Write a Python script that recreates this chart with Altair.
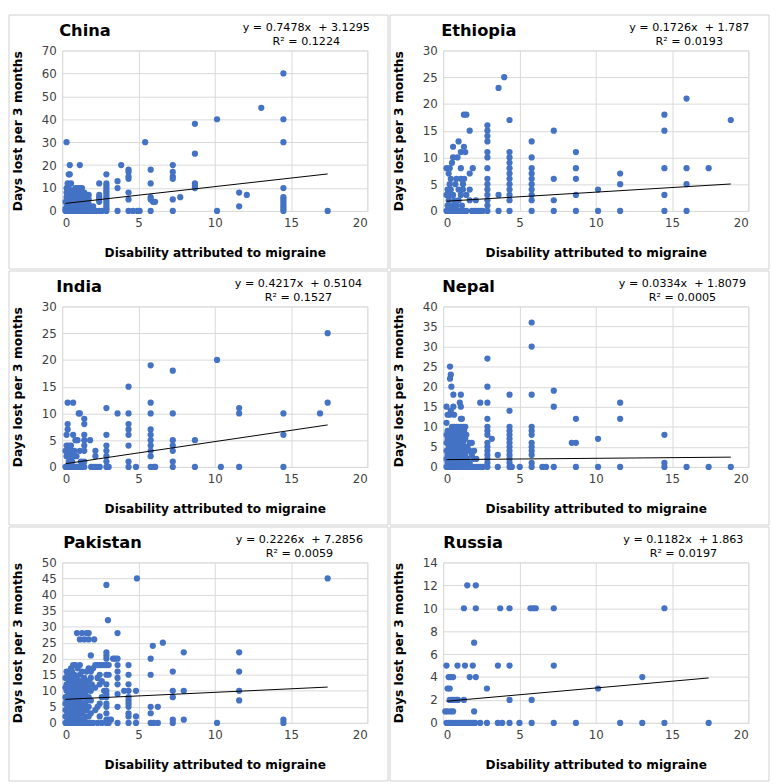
import altair as alt
import pandas as pd

countries = ["China", "Ethiopia", "India", "Nepal", "Pakistan", "Russia"]
slopes = [0.7478, 0.1726, 0.4217, 0.0334, 0.2226, 0.1182]
intercepts = [3.1295, 1.787, 0.5104, 1.8079, 7.2856, 1.863]
eq_lines = [
    "y = 0.7478x\u00a0 + 3.1295", "y = 0.1726x\u00a0 + 1.787", "y = 0.4217x\u00a0 + 0.5104",
    "y = 0.0334x\u00a0 + 1.8079", "y = 0.2226x\u00a0 + 7.2856", "y = 0.1182x\u00a0 + 1.863",
]
r2_lines = ["R\u00b2 = 0.1224", "R\u00b2 = 0.0193", "R\u00b2 = 0.1527",
            "R\u00b2 = 0.0005", "R\u00b2 = 0.0059", "R\u00b2 = 0.0197"]
y_max = [70, 30, 30, 40, 50, 14]
y_step = [10, 5, 5, 5, 5, 2]
x_ticks = [0, 5, 10, 15, 20]
trend_x_start = [0.22, 0.22, 0.22, 0.22, 0.22, 0.22]
trend_x_end = [17.4, 18.85, 17.4, 18.85, 17.4, 17.4]

# points: {days lost (y): [disability values (x) at that y]}
china_rows = {
    60: [14.5], 45: [13.05], 40: [10.15, 14.5], 38: [8.7], 30: [0.29, 5.44, 14.5], 25: [8.7],
    20: [0.5, 1.16, 3.87, 7.25], 18: [4.35, 5.8], 17: [4.35, 7.25], 16: [0.43, 0.5, 2.9],
    15: [4.35, 7.25], 14: [4.35, 7.25], 13: [3.63], 12: [0.36, 0.58, 2.43, 2.9, 5.8, 8.7],
    11: [2.9, 8.7], 10: [0.29, 0.43, 0.87, 1.01, 1.16, 1.3, 2.9, 3.63, 8.7, 14.5],
    9: [0.36, 0.72, 1.09, 2.9], 8: [0.29, 0.5, 0.8, 1.16, 1.45, 2.9, 4.35, 11.6],
    7: [0.43, 0.65, 0.94, 1.23, 1.6, 1.74, 2.43, 2.9, 12.1],
    6: [0.29, 0.5, 0.72, 0.87, 1.01, 1.3, 1.45, 2.43, 2.9, 5.8, 7.74, 14.5],
    5: [0.36, 0.58, 0.8, 1.09, 1.38, 1.52, 1.74, 2.43, 2.9, 4.35, 5.8, 7.25, 14.5],
    4: [0.22, 0.43, 0.65, 0.94, 1.16, 1.45, 1.6, 2.43, 2.9, 5.95, 6.09, 14.5],
    3: [0.29, 0.5, 0.72, 0.87, 1.09, 1.3, 1.52, 1.74, 2.9, 14.5],
    2: [0.36, 0.58, 0.8, 1.01, 1.23, 1.45, 1.74, 2.03, 2.9, 11.6, 14.5],
    1: [0.22, 0.43, 0.65, 0.94, 1.16, 1.38, 1.6, 2.9, 14.5],
    0: [0.22, 0.29, 0.36, 0.43, 0.5, 0.58, 0.65, 0.72, 0.8, 0.87, 0.94, 1.01, 1.09, 1.16, 1.23,
        1.3, 1.38, 1.45, 1.52, 1.6, 1.74, 1.88, 2.03, 2.2, 2.43, 2.6, 2.9, 3.63, 4.35, 4.64,
        4.93, 5.08, 5.8, 7.25, 10.15, 14.5, 17.4],
}
ethiopia_rows = {
    25: [4.0], 23: [3.63], 21: [15.95], 18: [1.36, 1.52, 14.5], 17: [4.35, 18.85], 16: [2.9],
    15: [1.74, 2.9, 7.25, 14.5], 14: [2.9], 13: [1.01, 2.9, 5.8], 12: [0.65, 1.36],
    11: [1.16, 1.45, 2.9, 4.35, 8.7], 10: [0.65, 0.94, 2.9, 4.35, 5.8], 9: [0.58, 4.35],
    8: [0.22, 0.43, 1.16, 1.94, 2.9, 4.35, 5.8, 8.7, 14.5, 15.95, 17.4],
    7: [0.36, 1.74, 4.35, 5.8, 11.6],
    6: [0.5, 0.87, 1.16, 1.38, 2.9, 4.35, 5.8, 7.25, 8.7],
    5: [0.43, 0.8, 1.3, 2.9, 4.35, 5.8, 11.6, 15.95],
    4: [0.29, 0.5, 1.01, 1.3, 1.74, 2.9, 4.35, 5.8, 10.15],
    3: [0.22, 0.43, 0.65, 1.16, 1.52, 2.9, 3.63, 4.35, 5.8, 8.7, 14.5],
    2: [0.36, 0.72, 1.01, 1.74, 2.14, 2.9, 4.35, 5.8, 7.25],
    1: [0.29, 0.58, 0.87, 1.23, 2.9],
    0: [0.22, 0.36, 0.5, 0.65, 0.8, 0.94, 1.09, 1.23, 1.38, 1.52, 1.88, 2.03, 2.17, 2.32, 2.46,
        2.6, 2.9, 3.63, 4.35, 5.8, 7.25, 8.7, 10.15, 11.6, 14.5, 15.95],
}
india_rows = {
    25: [17.4], 20: [10.15], 19: [5.8], 18: [7.25], 15: [4.35], 12: [0.36, 0.72, 5.8, 17.4],
    11: [2.9, 11.6], 10: [1.09, 1.16, 3.63, 4.35, 5.8, 7.25, 11.6, 14.5, 16.9], 9: [1.45],
    8: [0.36, 1.45, 4.35], 7: [0.36, 4.35, 5.8], 6: [0.29, 0.72, 1.45, 2.9, 4.35, 5.8, 14.5],
    5: [0.87, 1.01, 1.45, 1.83, 5.8, 7.25, 8.7],
    4: [0.29, 0.43, 0.58, 1.45, 2.9, 4.35, 5.8, 7.25],
    3: [0.22, 0.36, 0.5, 0.65, 0.8, 1.16, 1.45, 2.18, 2.9, 5.8, 7.25],
    2: [0.29, 0.5, 0.72, 0.94, 2.18, 2.9, 5.8],
    1: [0.43, 0.65, 1.23, 1.45, 2.9, 4.35, 7.25],
    0: [0.22, 0.29, 0.36, 0.43, 0.5, 0.58, 0.65, 0.72, 0.8, 0.87, 0.94, 1.01, 1.09, 1.16, 1.23,
        1.3, 1.45, 1.9, 2.03, 2.18, 2.32, 2.46, 2.9, 3.05, 4.35, 4.84, 5.8, 6.0, 6.1, 7.25, 8.7,
        10.4, 11.6, 14.5],
}
nepal_rows = {
    36: [5.8], 30: [5.8], 27: [2.9], 25: [0.45], 23: [0.5], 22: [0.45], 20: [0.54, 2.9],
    19: [7.25], 18: [0.67, 1.16, 4.35, 5.8], 16: [1.09, 2.43, 2.9, 11.6],
    15: [0.22, 0.67, 1.16, 7.25], 14: [0.5, 4.35], 13: [0.29, 0.43, 0.72],
    12: [1.16, 1.23, 2.9, 8.7, 11.6], 11: [0.22],
    10: [0.58, 0.72, 0.87, 1.01, 1.16, 1.3, 1.45, 2.9, 4.35, 5.8],
    9: [0.29, 0.5, 0.8, 1.09, 1.38, 2.9, 4.35, 5.8],
    8: [0.22, 0.43, 0.65, 0.94, 1.23, 1.52, 2.9, 4.35, 5.8, 14.5],
    7: [0.29, 0.58, 0.87, 1.16, 1.45, 3.19, 4.35, 10.15],
    6: [0.22, 0.43, 0.72, 1.01, 1.3, 1.74, 1.88, 2.9, 4.35, 5.8, 8.43, 8.7],
    5: [0.36, 0.58, 0.8, 1.09, 1.38, 1.6, 2.9, 4.35, 5.8],
    4: [0.22, 0.5, 0.65, 0.94, 1.23, 1.52, 1.74, 2.03, 2.9, 4.35, 5.8],
    3: [0.29, 0.43, 0.72, 0.87, 1.16, 1.45, 1.88, 2.9, 3.58, 4.35, 5.8],
    2: [0.22, 0.36, 0.58, 0.8, 1.01, 1.3, 1.6, 2.03, 2.17, 2.9, 4.35],
    1: [0.29, 0.5, 0.65, 0.94, 1.23, 1.52, 1.74, 2.9, 4.35, 5.8, 14.5],
    0: [0.22, 0.29, 0.36, 0.43, 0.5, 0.58, 0.65, 0.72, 0.8, 0.87, 0.94, 1.01, 1.09, 1.16, 1.23,
        1.3, 1.38, 1.45, 1.6, 1.74, 1.88, 2.03, 2.17, 2.32, 2.46, 2.6, 2.9, 3.58, 4.35, 4.5,
        5.02, 5.8, 6.5, 6.74, 7.25, 8.7, 10.15, 11.6, 14.5, 15.95, 17.4, 18.85],
}
pakistan_rows = {
    45: [4.9, 17.4], 43: [2.9], 32: [3.0], 28: [0.97, 1.3, 1.6, 1.74, 3.63],
    26: [1.16, 1.45, 1.74, 2.1], 25: [6.6], 24: [5.94], 22: [2.9, 7.97, 11.6], 21: [1.88, 2.9],
    20: [2.9, 3.34, 3.48, 3.63, 5.8],
    18: [0.72, 0.87, 1.16, 2.17, 2.32, 2.46, 2.6, 2.75, 2.9, 3.05, 3.63, 4.35],
    17: [0.58, 1.01, 1.74, 2.03],
    16: [0.29, 0.43, 0.65, 1.3, 1.6, 1.88, 3.63, 7.25, 11.6],
    15: [0.36, 0.5, 0.8, 1.16, 2.46, 2.9, 3.05, 4.35, 5.8],
    14: [0.22, 0.58, 0.94, 1.45, 1.88, 2.32, 3.63],
    13: [0.43, 0.72, 1.09, 1.3, 1.6, 1.74, 2.6],
    12: [0.29, 0.5, 0.87, 1.23, 1.52, 1.94, 2.46, 2.9, 3.63, 4.35],
    11: [0.22, 0.36, 0.65, 1.01, 1.38, 1.74, 2.17],
    10: [0.29, 0.5, 0.72, 0.94, 1.16, 1.45, 1.6, 1.88, 2.75, 2.9, 4.06, 4.35, 4.84, 7.25, 7.97, 11.6],
    9: [0.43, 0.58, 0.8, 1.09, 1.3, 1.52, 2.9, 3.63],
    8: [0.22, 0.36, 0.65, 0.87, 1.23, 1.45, 1.74, 2.6, 2.9, 4.35, 7.25],
    7: [0.29, 0.5, 0.72, 1.01, 1.16, 1.6, 1.88, 4.35, 11.6],
    6: [0.22, 0.43, 0.58, 0.8, 0.94, 1.3, 1.52, 2.46, 2.9, 4.35],
    5: [0.36, 0.5, 0.65, 0.87, 1.09, 1.38, 1.74, 2.32, 2.9, 3.63, 4.35, 5.8, 6.27],
    4: [0.22, 0.29, 0.58, 0.72, 1.01, 1.23, 1.45, 1.6, 2.17],
    3: [0.36, 0.43, 0.65, 0.87, 1.16, 1.3, 1.88, 2.9, 4.35, 5.8],
    2: [0.22, 0.29, 0.5, 0.8, 0.94, 1.09, 1.52, 1.74, 2.46, 4.35, 4.84],
    1: [0.36, 0.58, 0.72, 1.01, 1.23, 1.45, 2.9, 3.05, 3.2, 7.25, 7.97, 14.5],
    0: [0.22, 0.29, 0.36, 0.43, 0.5, 0.58, 0.65, 0.72, 0.8, 0.87, 0.94, 1.01, 1.09, 1.16, 1.23,
        1.3, 1.38, 1.45, 1.52, 1.6, 1.74, 1.88, 2.03, 2.32, 2.6, 2.9, 3.05, 3.63, 4.35, 4.84,
        5.8, 6.0, 6.27, 7.25, 10.15, 14.5],
}
russia_rows = {
    12: [1.58, 2.14], 10: [1.36, 2.14, 3.74, 4.35, 5.72, 5.9, 6.07, 7.25, 14.5], 7: [2.03],
    5: [0.22, 0.94, 1.43, 1.94, 3.59, 4.35, 7.25], 4: [0.36, 0.5, 0.65, 1.74, 2.14, 13.05],
    3: [0.29, 0.43, 2.87, 10.15], 2: [0.43, 0.58, 0.72, 0.87, 0.97, 1.36, 4.35, 5.8],
    1: [0.14, 0.29, 0.5, 0.65, 2.03],
    0: [0.22, 0.36, 0.5, 0.65, 0.8, 0.94, 1.09, 1.23, 1.38, 1.52, 1.67, 1.81, 1.96, 2.1, 2.43,
        2.87, 3.58, 3.87, 4.35, 5.0, 5.8, 7.25, 8.7, 11.6, 13.05, 14.5, 17.4],
}
all_rows = [china_rows, ethiopia_rows, india_rows, nepal_rows, pakistan_rows, russia_rows]

# layout (pixels)
W, H = 310, 163
L, R, T, B = 54, 21, 36, 59
title_dx = [-3, -2, -6, -1, 1, 0]
eq_cx = [248, 250, 240, 243, 241, 244]
FONT = "DejaVu Sans"
BLUE = "#4472C4"
GRID = "#D9D9D9"


def make_panel(i):
    rows = all_rows[i]
    pts = pd.DataFrame([(x, y) for y, xs in rows.items() for x in xs], columns=["x", "y"])
    tx = [trend_x_start[i], trend_x_end[i]]
    trend = pd.DataFrame({"x": tx, "y": [slopes[i] * v + intercepts[i] for v in tx]})
    one = pd.DataFrame({"a": [0]})

    xs = alt.Scale(domain=[0, 20], nice=False, zero=True)
    ys = alt.Scale(domain=[0, y_max[i]], nice=False, zero=True)
    xaxis = alt.Axis(values=x_ticks, grid=True, gridColor=GRID, domain=False, ticks=False,
                     labelPadding=7, labelFontSize=12, labelColor="#404040", labelFont=FONT,
                     labelOverlap=False,
                     title="Disability  attributed to migraine", titleFont=FONT,
                     titleFontSize=12.3, titleFontWeight="bold", titleColor="#000000",
                     titleY=42, titleBaseline="middle")
    yaxis = alt.Axis(values=list(range(0, y_max[i] + 1, y_step[i])), grid=True, gridColor=GRID,
                     domain=False, ticks=False, labelPadding=6, labelFontSize=12,
                     labelColor="#404040", labelFont=FONT, labelOverlap=False,
                     title="Days lost per 3 months", titleFont=FONT, titleFontSize=12.5,
                     titleFontWeight="bold", titleColor="#000000",
                     titleX=-45, titleY=H / 2, titleAngle=270, titleBaseline="middle",
                     titleAlign="center")

    frame = alt.Chart(one).mark_rect(filled=False, stroke="#D0D0D0", strokeWidth=1).encode(
        x=alt.value(-L), x2=alt.value(W + R), y=alt.value(-T), y2=alt.value(H + B))
    points = alt.Chart(pts).mark_circle(size=40, color=BLUE, opacity=1).encode(
        x=alt.X("x:Q", scale=xs, axis=xaxis),
        y=alt.Y("y:Q", scale=ys, axis=yaxis))
    line = alt.Chart(trend).mark_line(color="black", strokeWidth=1).encode(
        x=alt.X("x:Q", scale=xs, axis=xaxis), y=alt.Y("y:Q", scale=ys, axis=yaxis))
    title = alt.Chart(one).mark_text(align="left", baseline="middle", font=FONT,
                                     fontSize=16.5, fontWeight="bold", color="black").encode(
        x=alt.value(title_dx[i]), y=alt.value(-20), text=alt.value(countries[i]))
    eq1 = alt.Chart(one).mark_text(align="center", baseline="middle", font=FONT,
                                   fontSize=11.3, color="black").encode(
        x=alt.value(eq_cx[i]), y=alt.value(-23), text=alt.value(eq_lines[i]))
    eq2 = alt.Chart(one).mark_text(align="center", baseline="middle", font=FONT,
                                   fontSize=11.3, color="black").encode(
        x=alt.value(eq_cx[i]), y=alt.value(-9), text=alt.value(r2_lines[i]))
    return alt.layer(frame, points, line, title, eq1, eq2).properties(width=W, height=H)


panels = [make_panel(i) for i in range(6)]
chart = alt.vconcat(
    alt.hconcat(panels[0], panels[1], spacing=0),
    alt.hconcat(panels[2], panels[3], spacing=0),
    alt.hconcat(panels[4], panels[5], spacing=0),
    spacing=0,
).properties(padding=0).configure_view(strokeWidth=0).configure(font=FONT)

chart.save("out.html", embed_options={"renderer": "svg", "actions": False})
